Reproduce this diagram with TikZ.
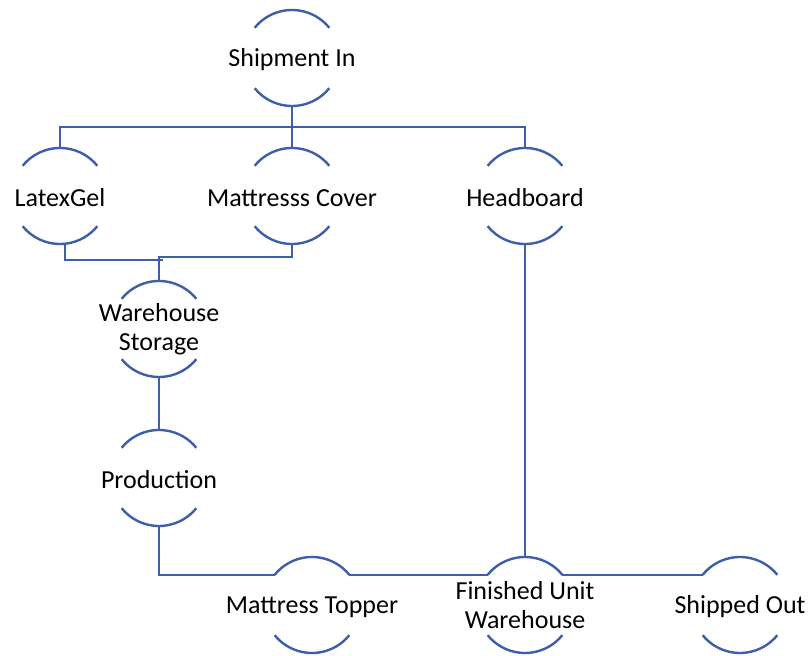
\documentclass[tikz,border=0pt]{standalone}
\usepackage{fontspec}
\setmainfont{Carlito}
\definecolor{flowblue}{RGB}{61,94,168}
\begin{document}
\begin{tikzpicture}[x=1pt,y=1pt,
  station/.style={circle, minimum size=96pt, inner sep=0pt, outer sep=0pt},
  txt/.style={align=center, font=\fontsize{26}{29}\selectfont, text=black, inner sep=0pt},
  oneline/.style={txt, yshift=-2pt},
  link/.style={draw=flowblue, line width=2.4pt},
  rim/.style={draw=flowblue, line width=2.4pt}]
\useasboundingbox (0,0) rectangle (812,656);

% stations
\node[station, label={[oneline]center:Shipment In}] (ship) at (292,598) {};
\node[station, label={[oneline]center:LatexGel}] (latex) at (60,460) {};
\node[station, label={[oneline]center:Mattresss Cover}] (cover) at (292,460) {};
\node[station, label={[oneline]center:Headboard}] (head) at (525,460) {};
\node[station, label={[txt]center:Warehouse\\Storage}] (ware) at (159,327) {};
\node[station, label={[oneline]center:Production}] (prod) at (159,178) {};
\node[station, label={[oneline]center:Mattress Topper}] (topper) at (312,51) {};
\node[station, label={[txt]center:Finished Unit\\Warehouse}] (fin) at (525,51) {};
\node[station, label={[oneline]center:Shipped Out}] (out) at (740,51) {};

% upper and lower rims of each station
\foreach \n in {ship,latex,cover,head,ware,prod,topper,fin,out} {
  \draw[rim] (\n.141) arc[start angle=141, end angle=39, radius=48pt];
  \draw[rim] (\n.219) arc[start angle=219, end angle=321, radius=48pt];
}

% junctions
\coordinate (bus) at (292,529);
\coordinate (mergeL) at (163,396);
\coordinate (mergeR) at (159,399);

% connectors
\draw[link] (ship.south) -- (cover.north);
\draw[link] (latex.north) |- (bus) -| (head.north);
\draw[link] ([xshift=5pt]latex.south) |- (mergeL);
\draw[link] (cover.south) |- (mergeR) -- (ware.north);
\draw[link] (ware.south) -- (prod.north);
\draw[link] (prod.south) |- (topper.141);
\draw[link] (topper.39) -- (fin.141);
\draw[link] (fin.39) -- (out.141);
\draw[link] (head.south) -- (fin.north);
\end{tikzpicture}
\end{document}
